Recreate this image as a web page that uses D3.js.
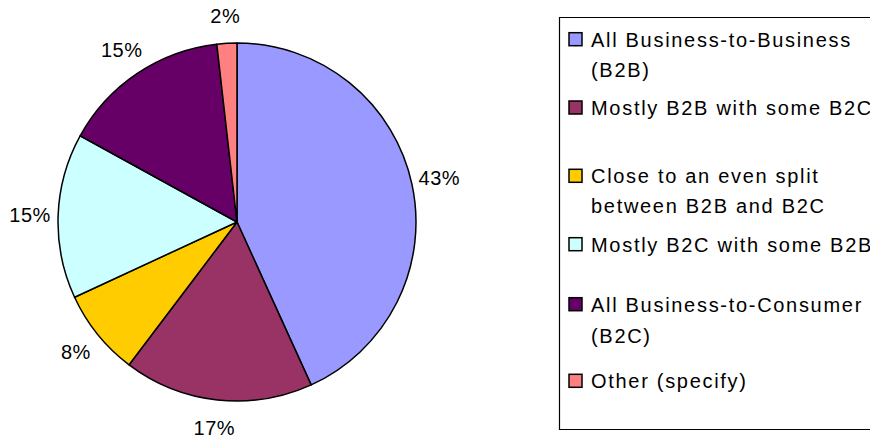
<!DOCTYPE html>
<html>
<head>
<meta charset="utf-8">
<script src="https://cdn.jsdelivr.net/npm/d3@7"></script>
<style>
  body { margin: 0; background: #fff; overflow: hidden; }
  svg { display: block; overflow: hidden; }
  text { font-family: "Liberation Sans", Arial, sans-serif; fill: #000; }
</style>
</head>
<body>
<svg id="chart" width="870" height="438"></svg>
<script>
// data (share of respondents, %)
const categories = ["All Business-to-Business (B2B)", "Mostly B2B with some B2C", "Close to an even split between B2B and B2C", "Mostly B2C with some B2B", "All Business-to-Consumer (B2C)", "Other (specify)"]
const values = [43.2, 17.1, 7.8, 14.9, 15.2, 1.8]
const legendLines = [["All Business-to-Business", "(B2B)"], ["Mostly B2B with some B2C"], ["Close to an even split", "between B2B and B2C"], ["Mostly B2C with some B2B"], ["All Business-to-Consumer", "(B2C)"], ["Other (specify)"]]
const colors = ["#9999FF", "#993366", "#FFCC00", "#CCFFFF", "#660066", "#FF8080"]

const svg = d3.select("#chart")
const cx = 237, cy = 222, r = 179

const pie = d3.pie().sort(null).value(d => d)
const arcs = pie(values)
const arc = d3.arc().innerRadius(0).outerRadius(r)
const labelArc = d3.arc().innerRadius(207).outerRadius(207)

const g = svg.append("g").attr("transform", `translate(${cx},${cy})`)

g.selectAll("path")
    .data(arcs)
    .enter()
    .append("path")
    .attr("d", arc)
    .attr("fill", (d, i) => colors[i])
    .attr("stroke", "#000")
    .attr("stroke-width", 1.5)
    .attr("stroke-linejoin", "round")

g.selectAll("text.lbl")
    .data(arcs)
    .enter()
    .append("text")
    .attr("class", "lbl")
    .attr("transform", d => `translate(${labelArc.centroid(d)})`)
    .attr("text-anchor", "middle")
    .attr("dy", "0.36em")
    .style("font-size", "20px")
    .style("letter-spacing", "0.5px")
    .text(d => Math.round(d.data) + "%")

// legend frame: runs off the right edge like the original, so no right side
svg.append("path")
    .attr("d", "M900,17.5H559.5V429.5H900")
    .attr("fill", "none").attr("stroke", "#000").attr("stroke-width", 1.2)

const baselines = [[46.7, 77.3], [115], [183.3, 213.3], [251.7], [311.7, 342.7], [388.3]]

const legend = svg.append("g")
categories.forEach((c, i) => {
    const y0 = baselines[i][0]
    legend.append("rect")
        .attr("x", 569).attr("y", y0 - 14)
        .attr("width", 13).attr("height", 13)
        .attr("fill", colors[i]).attr("stroke", "#000").attr("stroke-width", 1.5)
    legendLines[i].forEach((line, j) => {
        legend.append("text")
            .attr("x", 591).attr("y", baselines[i][j])
            .style("font-size", "20px")
            .style("letter-spacing", "1.7px")
            .text(line)
    })
})
</script>
</body>
</html>
